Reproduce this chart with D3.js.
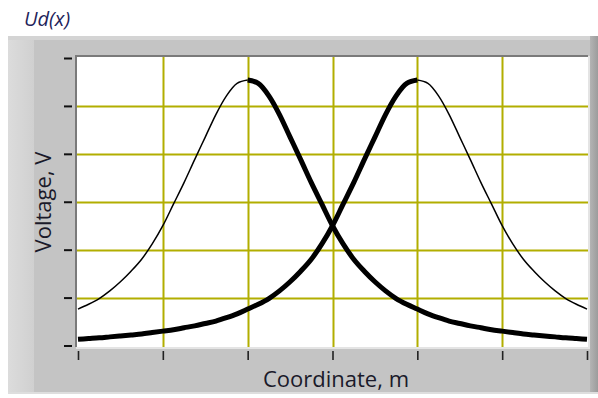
<!DOCTYPE html>
<html>
<head>
<meta charset="utf-8">
<script src="https://cdn.jsdelivr.net/npm/d3@7"></script>
<style>
  html, body { margin: 0; padding: 0; background: #ffffff; }
  svg { display: block; }
  text { font-family: "Open Sans", "Noto Sans", "Liberation Sans", sans-serif; }
</style>
</head>
<body>
<div id="chart"></div>
<script>
// Coordinate samples along the probe path (m), step 0.125
const coordinates = [0, 0.125, 0.25, 0.375, 0.5, 0.625, 0.75, 0.875, 1, 1.125, 1.25, 1.375,
  1.5, 1.625, 1.75, 1.875, 2, 2.125, 2.25, 2.375, 2.5, 2.625, 2.75, 2.875, 3,
  3.125, 3.25, 3.375, 3.5, 3.625, 3.75, 3.875, 4, 4.125, 4.25, 4.375, 4.5, 4.625,
  4.75, 4.875, 5, 5.125, 5.25, 5.375, 5.5, 5.625, 5.75, 5.875, 6];
// Voltage profile of the first electrode (peak near x = 2)
const voltageA = [0.76, 0.86, 0.98, 1.14, 1.33, 1.55, 1.8, 2.12, 2.5, 2.95, 3.4, 3.88,
  4.35, 4.82, 5.21, 5.47, 5.54, 5.47, 5.21, 4.82, 4.35, 3.88, 3.4, 2.95, 2.5,
  2.12, 1.8, 1.55, 1.33, 1.14, 0.98, 0.86, 0.76, 0.66, 0.58, 0.51, 0.46, 0.41,
  0.37, 0.33, 0.3, 0.27, 0.24, 0.22, 0.2, 0.18, 0.16, 0.145, 0.13];
// Voltage profile of the second electrode (peak near x = 4)
const voltageB = [0.13, 0.145, 0.16, 0.18, 0.2, 0.22, 0.24, 0.27, 0.3, 0.33, 0.37, 0.41,
  0.46, 0.51, 0.58, 0.66, 0.76, 0.86, 0.98, 1.14, 1.33, 1.55, 1.8, 2.12, 2.5,
  2.95, 3.4, 3.88, 4.35, 4.82, 5.21, 5.47, 5.54, 5.47, 5.21, 4.82, 4.35, 3.88,
  3.4, 2.95, 2.5, 2.12, 1.8, 1.55, 1.33, 1.14, 0.98, 0.86, 0.76];
// Tick positions (unlabelled)
const xTicks = [0, 1, 2, 3, 4, 5, 6];
const yTicks = [0, 1, 2, 3, 4, 5, 6];

const W = 598, H = 398;
const svg = d3.select("#chart").append("svg").attr("width", W).attr("height", H);

// ---- panel frame ----
const defs = svg.append("defs");
const gR = defs.append("linearGradient").attr("id", "rightEdge").attr("x1", 0).attr("x2", 1);
gR.append("stop").attr("offset", 0).attr("stop-color", "#b4b4b4");
gR.append("stop").attr("offset", 1).attr("stop-color", "#9c9c9c");
const gL = defs.append("linearGradient").attr("id", "leftEdge").attr("x1", 0).attr("x2", 1);
gL.append("stop").attr("offset", 0).attr("stop-color", "#dcdcdc");
gL.append("stop").attr("offset", 1).attr("stop-color", "#d0d0d0");

svg.append("rect").attr("x", 8).attr("y", 36).attr("width", 590).attr("height", 358).attr("fill", "#c4c4c4");
svg.append("rect").attr("x", 8).attr("y", 36).attr("width", 26).attr("height", 358).attr("fill", "url(#leftEdge)");
svg.append("rect").attr("x", 8).attr("y", 36).attr("width", 582).attr("height", 4).attr("fill", "#d4d4d4");
svg.append("rect").attr("x", 590).attr("y", 36).attr("width", 8).attr("height", 358).attr("fill", "url(#rightEdge)");
svg.append("rect").attr("x", 8).attr("y", 392).attr("width", 590).attr("height", 2).attr("fill", "#dedede");

// ---- scales ----
const x = d3.scaleLinear().domain([0, 6]).range([78, 587]);
const y = d3.scaleLinear().domain([0, 6]).range([345.5, 58]);

// plot background with inset border
svg.append("rect").attr("x", 77).attr("y", 56).attr("width", 511).attr("height", 291).attr("fill", "#ffffff");
svg.append("line").attr("x1", 76).attr("x2", 588).attr("y1", 56).attr("y2", 56)
  .attr("stroke", "#7a7a7a").attr("stroke-width", 2);
svg.append("line").attr("x1", 76).attr("x2", 76).attr("y1", 55).attr("y2", 347)
  .attr("stroke", "#7a7a7a").attr("stroke-width", 2);
svg.append("line").attr("x1", 589).attr("x2", 589).attr("y1", 56).attr("y2", 348)
  .attr("stroke", "#e4e4e4").attr("stroke-width", 2);
svg.append("line").attr("x1", 76).attr("x2", 590).attr("y1", 348).attr("y2", 348)
  .attr("stroke", "#e4e4e4").attr("stroke-width", 2);

// ---- grid ----
const gridColor = "#b2ae00";
const grid = svg.append("g");
grid.selectAll("line.vx").data(xTicks.slice(1, -1)).join("line")
  .attr("x1", d => Math.round(x(d)) + 0.5).attr("x2", d => Math.round(x(d)) + 0.5)
  .attr("y1", 57).attr("y2", 347)
  .attr("stroke", gridColor).attr("stroke-width", 2);
grid.selectAll("line.hy").data(yTicks.slice(1, -1)).join("line")
  .attr("y1", d => Math.round(y(d)) + 0.5).attr("y2", d => Math.round(y(d)) + 0.5)
  .attr("x1", 77).attr("x2", 588)
  .attr("stroke", gridColor).attr("stroke-width", 2);

// ---- axes (ticks only) ----
const yAxis = d3.axisLeft(y).tickValues(yTicks).tickFormat("").tickSize(8).tickSizeOuter(0);
const gy = svg.append("g").attr("transform", "translate(72,0)").call(yAxis);
gy.select(".domain").remove();
gy.selectAll(".tick line").attr("stroke", "#111").attr("stroke-width", 2);

const xAxis = d3.axisBottom(x).tickValues(xTicks).tickFormat("").tickSize(9).tickSizeOuter(0);
const gx = svg.append("g").attr("transform", "translate(0,351)").call(xAxis);
gx.select(".domain").remove();
gx.selectAll(".tick line").attr("stroke", "#222").attr("stroke-width", 1.6);

// ---- curves ----
defs.append("clipPath").attr("id", "plotClip")
  .append("rect").attr("x", 77).attr("y", 57).attr("width", 511).attr("height", 290);
const plot = svg.append("g").attr("clip-path", "url(#plotClip)");
const line = d3.line().x(d => x(d[0])).y(d => y(d[1])).curve(d3.curveMonotoneX);

// each profile: thin stroke on one side of its peak, heavy stroke on the other
function drawSeries(values, thickAfterPeak) {
  const pts = coordinates.map((c, i) => [c, values[i]]);
  const peak = d3.maxIndex(values);
  const before = pts.slice(0, peak + 1);
  const after = pts.slice(peak);
  const thin = thickAfterPeak ? before : after;
  const thick = thickAfterPeak ? after : before;
  plot.append("path").attr("d", line(thin)).attr("fill", "none")
    .attr("stroke", "#000").attr("stroke-width", 1.5);
  plot.append("path").attr("d", line(thick)).attr("fill", "none")
    .attr("stroke", "#000").attr("stroke-width", 5).attr("stroke-linejoin", "round");
}
drawSeries(voltageA, true);
drawSeries(voltageB, false);

// ---- labels ----
svg.append("text").attr("x", 24).attr("y", 26)
  .attr("font-size", 20).attr("font-style", "italic").attr("fill", "#23235a")
  .text("Ud(x)");

svg.append("text").attr("transform", "translate(51,202) rotate(-90)")
  .attr("text-anchor", "middle").attr("font-size", 22).attr("fill", "#1a1a2a")
  .text("Voltage, V");

svg.append("text").attr("x", 336).attr("y", 387)
  .attr("text-anchor", "middle").attr("font-size", 22).attr("fill", "#1a1a2a")
  .text("Coordinate, m");
</script>
</body>
</html>
